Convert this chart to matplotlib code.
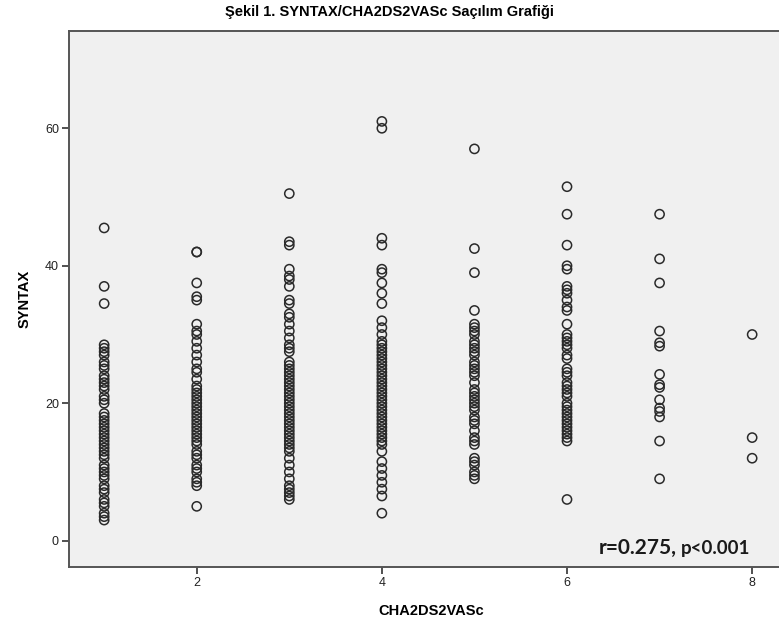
import numpy as np
import matplotlib
matplotlib.use("Agg")
import matplotlib.pyplot as plt
from matplotlib import font_manager

# SYNTAX skorlari, CHA2DS2VASc degerine gore
cha_1 = [45.5, 37, 34.5, 28.5, 28, 27.5, 27, 26, 25.5, 25, 24, 23.5, 23, 22.5,
         22, 21, 20.5, 20, 18.5, 18, 17.5, 17, 16.5, 16, 15.5, 15, 14.5, 14,
         13.5, 13, 12.5, 12, 11, 10.5, 10, 9.5, 9, 8, 7.5, 7, 6, 5.5, 5, 4,
         3.5, 3]
cha_2 = [42, 42, 37.5, 35.5, 35, 31.5, 30.5, 30, 29, 28, 27, 26, 25, 24.5,
         23.5, 22.5, 22, 21.5, 21, 20.5, 20, 19.5, 19, 18.5, 18, 17.5, 17,
         16.5, 16, 15.5, 15, 14.5, 14, 13, 12.5, 12, 11, 10.5, 10, 9, 8.5, 8, 5]
cha_3 = [50.5, 43.5, 43, 39.5, 38.5, 38, 37, 35, 34.5, 33, 32.5, 31.5, 30.5,
         29.5, 28.5, 28, 27.5, 26, 25.5, 25, 24.5, 24, 23.5, 23, 22.5, 22,
         21.5, 21, 20.5, 20, 19.5, 19, 18.5, 18, 17.5, 17, 16.5, 16, 15.5, 15,
         14.5, 14, 13.5, 13, 12, 11, 10, 9, 8, 7.5, 7, 6.5, 6]
cha_4 = [61, 60, 44, 43, 39.5, 39, 37.5, 36, 34.5, 32, 31, 30, 29, 28.5, 28,
         27.5, 27, 26.5, 26, 25.5, 25, 24.5, 24, 23.5, 23, 22.5, 22, 21.5, 21,
         20.5, 20, 19.5, 19, 18.5, 18, 17.5, 17, 16.5, 16, 15.5, 15, 14.5, 14,
         13, 11.5, 10.5, 9.5, 8.5, 7.5, 6.5, 4]
cha_5 = [57, 42.5, 39, 33.5, 31.5, 31, 30.5, 30, 29, 28.5, 28, 27.5, 27, 26,
         25.5, 25, 24.5, 24, 23, 22, 21.5, 21, 20.5, 20, 19.5, 19, 18, 17.5,
         17, 16, 15, 14.5, 14, 12, 11.5, 11, 10, 9.5, 9]
cha_6 = [51.5, 47.5, 43, 40, 39.5, 37, 36.5, 36, 35, 34, 33.5, 31.5, 30, 29.5,
         29, 28.5, 28, 27, 26.5, 25, 24.5, 24, 23, 22.5, 22, 21.5, 21, 20,
         19.5, 19, 18.5, 18, 17.5, 17, 16.5, 16, 15.5, 15, 14.5, 6]
cha_7 = [47.5, 41, 37.5, 30.5, 28.8, 28.3, 24.2, 22.7, 22.3, 20.5, 19.3, 18.8,
         18, 14.5, 9]
cha_8 = [30, 15, 12]

groups = [cha_1, cha_2, cha_3, cha_4, cha_5, cha_6, cha_7, cha_8]
x_ticks = [2, 4, 6, 8]
y_ticks = [0, 20, 40, 60]

title_text = "Şekil 1. SYNTAX/CHA2DS2VASc Saçılım Grafiği"
x_label = "CHA2DS2VASc"
y_label = "SYNTAX"


def pick_font(names):
    installed = {f.name for f in font_manager.fontManager.ttflist}
    for n in names:
        if n in installed:
            return n
    return "DejaVu Sans"


narrow = pick_font(["Liberation Sans Narrow", "Liberation Sans", "DejaVu Sans"])
arial = pick_font(["Liberation Sans", "DejaVu Sans"])
calibri = pick_font(["Lato", "Open Sans", "DejaVu Sans"])

xs = np.concatenate([[i + 1] * len(g) for i, g in enumerate(groups)])
ys = np.concatenate(groups)

fig = plt.figure(figsize=(7.79, 6.39), dpi=100)
ax = fig.add_axes([0.0882, 0.1122, 0.93, 0.8398])
ax.set_facecolor("#f0f0f0")

ax.scatter(xs, ys, s=44, facecolors="none", edgecolors="#2a2a2a",
           linewidths=1.1, zorder=3)

# axes ends past the right edge of the picture, like the reference
ax.set_xlim(0.617, 8.29 + 0.0182 * 7.673 / 0.9118)
ax.set_ylim(-3.87, 74.2)
ax.set_xticks(x_ticks)
ax.set_yticks(y_ticks)
ax.tick_params(direction="out", length=5, width=1.2, color="#333333",
               labelsize=9, pad=2, labelcolor="#222222")
for lab in ax.get_xticklabels() + ax.get_yticklabels():
    lab.set_fontfamily(arial)

for side in ["left", "bottom", "top", "right"]:
    ax.spines[side].set_color("#555555")
    ax.spines[side].set_linewidth(1.4)

ax.set_xlabel(x_label, fontsize=10.5, fontweight="bold", family=arial,
              labelpad=11)
ax.set_ylabel(y_label, fontsize=10.5, fontweight="bold", family=arial,
              labelpad=10)
fig.text(0.5, 0.981, title_text, ha="center", va="center", fontsize=10.5,
         fontweight="bold", family=narrow)

# korelasyon etiketi
t1 = ax.text(0.731, 0.025, "r=0.275,", transform=ax.transAxes, fontsize=15,
             fontweight="bold", family=calibri, color="#1a1a1a",
             va="baseline")
fig.canvas.draw()
bb = t1.get_window_extent().transformed(ax.transAxes.inverted())
ax.text(bb.x1 + 0.006, 0.025, "p<0.001", transform=ax.transAxes,
        fontsize=13.5, fontweight="bold", family=calibri, color="#1a1a1a",
        va="baseline")

fig.savefig("out.png", dpi=100)
